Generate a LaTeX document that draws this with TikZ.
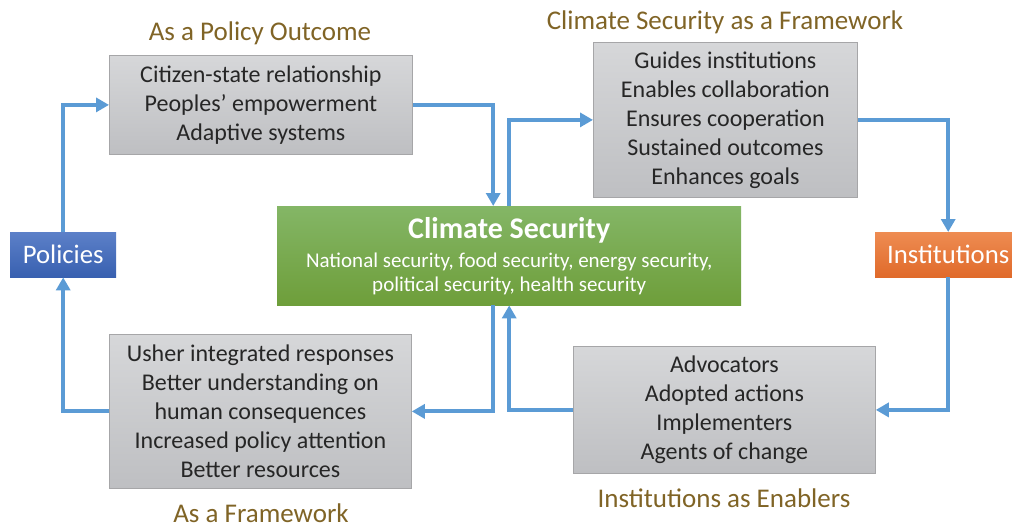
\documentclass[tikz,border=0pt]{standalone}
\usepackage{fontspec}
\setmainfont{Carlito}
\usetikzlibrary{arrows.meta}
\definecolor{grayTop}{RGB}{214,215,217}
\definecolor{grayBot}{RGB}{190,191,194}
\definecolor{grayLine}{RGB}{166,166,168}
\definecolor{greenTop}{RGB}{132,182,102}
\definecolor{greenBot}{RGB}{110,158,58}
\definecolor{blueTop}{RGB}{92,128,200}
\definecolor{blueBot}{RGB}{56,96,176}
\definecolor{orangeTop}{RGB}{238,140,82}
\definecolor{orangeBot}{RGB}{224,106,42}
\definecolor{connBlue}{RGB}{91,155,213}
\definecolor{titleBrown}{RGB}{128,100,38}
\definecolor{txtDark}{RGB}{38,38,38}
\tikzset{
  graybox/.style={rectangle, anchor=north west, top color=grayTop, bottom color=grayBot,
    draw=grayLine, line width=0.8pt, align=center, text=txtDark, inner sep=0pt,
    font=\fontsize{24}{29}\selectfont},
  greenbox/.style={rectangle, anchor=north west, top color=greenTop, bottom color=greenBot,
    draw=none, align=center, text=white, inner sep=0pt,
    font=\fontsize{21}{24}\selectfont},
  tagbox/.style={rectangle, anchor=north west, draw=none, text=white, inner sep=0pt,
    font=\fontsize{26.7}{30}\selectfont},
  titletext/.style={text=titleBrown, font=\fontsize{27}{30}\selectfont, inner sep=0pt, anchor=base},
  conn/.style={draw=connBlue, line width=4pt, -{Triangle[length=13pt,width=14pt]}}
}
\begin{document}
\begin{tikzpicture}[x=1pt,y=-1pt]
\useasboundingbox (0,0) rectangle (1012,524);
% boxes
\node[graybox, minimum width=303pt, minimum height=99pt] (out) at (109,55)
  {Citizen-state relationship\\Peoples’ empowerment\\Adaptive systems};
\node[graybox, minimum width=264pt, minimum height=155pt] (fw) at (593,42)
  {Guides institutions\\Enables collaboration\\Ensures cooperation\\Sustained outcomes\\Enhances goals};
\node[graybox, minimum width=302pt, minimum height=127pt] (en) at (573,346)
  {Advocators\\Adopted actions\\Implementers\\Agents of change};
\node[graybox, minimum width=302pt, minimum height=154pt] (fwb) at (109,334)
  {Usher integrated responses\\Better understanding on\\human consequences\\Increased policy attention\\Better resources};
\node[greenbox, minimum width=464pt, minimum height=99pt] (cs) at (277,206)
  {{\fontsize{30}{30}\selectfont\bfseries Climate Security}\\[5pt]
   National security, food security, energy security,\\
   political security, health security};
\node[tagbox, top color=blueTop, bottom color=blueBot, minimum width=106pt, minimum height=45pt] (pol) at (10,232) {Policies};
\node[tagbox, top color=orangeTop, bottom color=orangeBot, minimum width=146pt, minimum height=45pt] (inst) at (875,232) {Institutions};
% titles
\node[titletext] (t1) at (260,41) {As a Policy Outcome};
\node[titletext] (t2) at (725,29.5) {Climate Security as a Framework};
\node[titletext] (t3) at (261,522) {As a Framework};
\node[titletext] (t4) at (724,507) {Institutions as Enablers};
% connectors
\coordinate (csTopL) at ([xshift=-16pt]cs.north);
\coordinate (csBotL) at ([xshift=-16pt]cs.south);
\draw[conn] (pol.north) |- (out.west);
\draw[conn] (out.east) -| (csTopL);
\draw[conn] (cs.north) |- (fw.west);
\draw[conn] (fw.east) -| (inst.north);
\draw[conn] (inst.south) |- (en.east);
\draw[conn] (en.west) -| (cs.south);
\draw[conn] (csBotL) |- (fwb.east);
\draw[conn] (fwb.west) -| (pol.south);
\end{tikzpicture}
\end{document}
